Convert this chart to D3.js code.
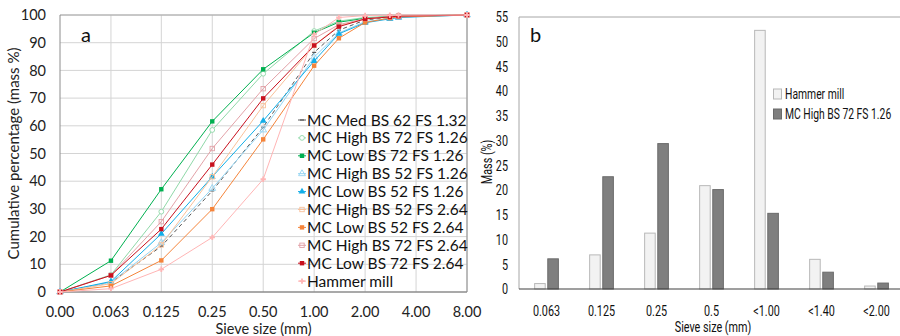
<!DOCTYPE html>
<html><head><meta charset="utf-8">
<script src="https://cdn.jsdelivr.net/npm/d3@7"></script>
<style>
body{margin:0;background:#fff;}
svg{display:block;}
</style></head>
<body><svg id="c" width="900" height="336"></svg>
<script>
// ---------- Panel a data ----------
const sieveSizes = [0, 0.063, 0.125, 0.25, 0.5, 1, 1.4, 2, 2.8, 3.15, 8];
const xTickValues = [0, 0.063, 0.125, 0.25, 0.5, 1, 2, 4, 8];
const xTickLabels = ["0.00","0.063","0.125","0.25","0.50","1.00","2.00","4.00","8.00"];
const yTicksA = [0,10,20,30,40,50,60,70,80,90,100];
const seriesNames = [
  "MC Med BS 62 FS 1.32","MC High BS 72 FS 1.26","MC Low BS 72 FS 1.26",
  "MC High BS 52 FS 1.26","MC Low BS 52 FS 1.26","MC High BS 52 FS 2.64",
  "MC Low BS 52 FS 2.64","MC High BS 72 FS 2.64","MC Low BS 72 FS 2.64","Hammer mill"];
const medBS62 =   [0, 3.5, 16.5, 36.5, 59.5, 86.5, 94.5, 98.2, 99.2, 99.5, 100];
const highBS72a = [0, 6.2, 29.0, 58.5, 78.8, 94.2, 97.8, 99.1, 99.5, 99.7, 100];
const lowBS72a =  [0, 11.3, 37.1, 61.6, 80.4, 93.6, 97.4, 98.8, 99.4, 99.6, 100];
const highBS52a = [0, 3.5, 17.8, 37.4, 58.5, 84.8, 93.5, 97.6, 98.8, 99.2, 100];
const lowBS52a =  [0, 3.8, 21.0, 41.6, 61.8, 83.4, 93.2, 97.2, 98.6, 99.1, 100];
const highBS52b = [0, 3.0, 17.0, 41.6, 67.3, 89.0, 96.2, 98.5, 99.3, 99.5, 100];
const lowBS52b =  [0, 2.2, 11.4, 29.9, 55.1, 81.7, 91.6, 97.3, 98.9, 99.3, 100];
const highBS72b = [0, 6.0, 25.4, 51.8, 73.4, 91.5, 96.5, 98.7, 99.4, 99.6, 100];
const lowBS72b =  [0, 6.0, 22.7, 46.0, 69.9, 89.0, 95.8, 98.6, 99.3, 99.6, 100];
const hammerCum = [0, 1.2, 8.2, 19.7, 40.7, 93.0, 99.1, 99.8, 99.9, 100, 100];
const seriesValues = [medBS62, highBS72a, lowBS72a, highBS52a, lowBS52a, highBS52b, lowBS52b, highBS72b, lowBS72b, hammerCum];

// ---------- Panel b data ----------
const binLabels = ["0.063","0.125","0.25","0.5","<1.00","<1.40","<2.00"];
const hammerMass = [1.2, 7.0, 11.4, 21.0, 52.4, 6.1, 0.7];
const mcHighMass = [6.2, 22.8, 29.5, 20.2, 15.4, 3.5, 1.3];
const barSeriesNames = ["Hammer mill","MC High BS 72 FS 1.26"];
const yTicksB = [0,5,10,15,20,25,30,35,40,45,50,55];

// ---------- styles ----------
const styles = [
  {color:"#595959", dash:"4,3", marker:"dash"},
  {color:"#8fd8a8", dash:null, marker:"circleOpen"},
  {color:"#00b050", dash:null, marker:"square"},
  {color:"#93d4f2", dash:null, marker:"triOpen"},
  {color:"#12aee8", dash:null, marker:"tri"},
  {color:"#f9c19a", dash:null, marker:"squareOpen"},
  {color:"#f5843a", dash:null, marker:"square"},
  {color:"#e3a2a8", dash:null, marker:"squareOpen"},
  {color:"#c8101e", dash:null, marker:"square"},
  {color:"#ffb5b5", dash:null, marker:"plus"}
];

const svg = d3.select("#c");
const fontA = "Lato, Carlito, 'Open Sans', sans-serif";
const fontB = "Roboto, 'Liberation Sans', sans-serif";
function condense(sel, f){
  const k = f || 0.72;
  sel.each(function(){
    const w = this.getComputedTextLength();
    d3.select(this).attr("textLength", w*k).attr("lengthAdjust","spacingAndGlyphs");
  });
}

// ---------- Panel a ----------
const A = {l:60, r:467, t:15, b:292};
const xA = d3.scaleLog().base(2).domain([0.0315, 8]).range([A.l, A.r]);
const xPos = v => xA(v === 0 ? 0.0315 : v);
const yA = d3.scaleLinear().domain([0,100]).range([A.b, A.t]);

const ga = svg.append("g");
ga.selectAll("line.hg").data(yTicksA.filter(d=>d>0)).enter().append("line")
  .attr("x1",A.l).attr("x2",A.r).attr("y1",d=>yA(d)).attr("y2",d=>yA(d))
  .attr("stroke","#d4d4d4").attr("stroke-width",1);
ga.selectAll("line.vg").data(xTickValues.filter(d=>d>0)).enter().append("line")
  .attr("x1",d=>xPos(d)).attr("x2",d=>xPos(d)).attr("y1",A.t).attr("y2",A.b)
  .attr("stroke","#d4d4d4").attr("stroke-width",1);
ga.append("line").attr("x1",A.l).attr("x2",A.r).attr("y1",A.t).attr("y2",A.t).attr("stroke","#a6a6a6");
ga.append("line").attr("x1",A.r).attr("x2",A.r).attr("y1",A.t).attr("y2",A.b).attr("stroke","#8c8c8c");
ga.append("line").attr("x1",A.l).attr("x2",A.l).attr("y1",A.t).attr("y2",A.b).attr("stroke","#8c8c8c");
ga.append("line").attr("x1",A.l).attr("x2",A.r).attr("y1",A.b).attr("y2",A.b).attr("stroke","#8c8c8c").attr("stroke-width",1.5);

const yAxisA = d3.axisLeft(yA).tickValues(yTicksA).tickSize(0).tickPadding(14);
const gyA = ga.append("g").attr("transform",`translate(${A.l},0)`).call(yAxisA);
gyA.select(".domain").remove();
gyA.selectAll("text").attr("font-family",fontA).attr("font-size",14.5).attr("fill","#222");

ga.append("g").selectAll("text").data(xTickValues).enter().append("text")
  .attr("x",d=>xPos(d)).attr("y",317)
  .attr("text-anchor","middle").attr("font-family",fontA).attr("font-size",14.5).attr("fill","#222")
  .text((d,i)=>xTickLabels[i]);

ga.append("text").attr("x",(A.l+A.r)/2).attr("y",334).attr("text-anchor","middle")
  .attr("font-family",fontA).attr("font-size",14.5).attr("fill","#222").text("Sieve size (mm)");
ga.append("text").attr("transform",`translate(19,${(A.t+A.b)/2}) rotate(-90)`)
  .attr("text-anchor","middle").attr("font-family",fontA).attr("font-size",15).attr("fill","#222")
  .text("Cumulative percentage (mass %)");
ga.append("text").attr("x",81).attr("y",42).attr("font-family",fontA).attr("font-size",20).attr("fill","#111").text("a");

function drawMarker(g, type, color, cx, cy){
  const s = 2.2;
  if(type==="square") g.append("rect").attr("x",cx-s).attr("y",cy-s).attr("width",2*s).attr("height",2*s).attr("fill",color);
  else if(type==="squareOpen") g.append("rect").attr("x",cx-s).attr("y",cy-s).attr("width",2*s).attr("height",2*s).attr("fill","none").attr("stroke",color).attr("stroke-width",0.9);
  else if(type==="circleOpen") g.append("circle").attr("cx",cx).attr("cy",cy).attr("r",2.4).attr("fill","#fff").attr("stroke",color).attr("stroke-width",0.9);
  else if(type==="tri") g.append("path").attr("d",d3.symbol(d3.symbolTriangle,20)()).attr("transform",`translate(${cx},${cy})`).attr("fill",color);
  else if(type==="triOpen") g.append("path").attr("d",d3.symbol(d3.symbolTriangle,20)()).attr("transform",`translate(${cx},${cy})`).attr("fill","none").attr("stroke",color).attr("stroke-width",0.9);
  else if(type==="plus") g.append("path").attr("d",d3.symbol(d3.symbolCross,16)()).attr("transform",`translate(${cx},${cy})`).attr("fill",color);
  else if(type==="dash") g.append("line").attr("x1",cx-2).attr("x2",cx+2).attr("y1",cy).attr("y2",cy).attr("stroke",color).attr("stroke-width",1.2);
}

const line = d3.line().x((d,i)=>xPos(sieveSizes[i])).y(d=>yA(d));
seriesValues.forEach((vals,k)=>{
  const st = styles[k];
  const g = ga.append("g");
  g.append("path").attr("d",line(vals)).attr("fill","none").attr("stroke",st.color)
    .attr("stroke-width",1).attr("stroke-dasharray",st.dash);
  vals.forEach((v,i)=>drawMarker(g, st.marker, st.color, xPos(sieveSizes[i]), yA(v)));
});

const lg = ga.append("g");
seriesNames.forEach((n,k)=>{
  const y = 120 + k*17.9;
  const st = styles[k];
  lg.append("line").attr("x1",298).attr("x2",306).attr("y1",y).attr("y2",y).attr("stroke",st.color).attr("stroke-width",1);
  drawMarker(lg, st.marker, st.color, 302, y);
  lg.append("text").attr("x",307).attr("y",y).attr("dy","0.36em").attr("font-family",fontA).attr("font-size",15.5).attr("fill","#111").text(n);
});

// ---------- Panel b ----------
const B = {l:519, r:904, t:17, b:289};
const xB = d3.scaleBand().domain(binLabels).range([B.l,B.r]).paddingInner(0).paddingOuter(0);
const yB = d3.scaleLinear().domain([0,55]).range([B.b,B.t]);
const inner = d3.scaleBand().domain(barSeriesNames).range([0,xB.bandwidth()]).paddingInner(0.12).paddingOuter(1.15);
const gb = svg.append("g");
gb.append("line").attr("x1",B.l).attr("x2",B.r).attr("y1",B.t).attr("y2",B.t).attr("stroke","#a6a6a6");
gb.append("line").attr("x1",B.l).attr("x2",B.l).attr("y1",B.t).attr("y2",B.b).attr("stroke","#a6a6a6");

const barData = [hammerMass, mcHighMass];
const barFill = ["#f2f2f2","#7f7f7f"];
const barStroke = ["#b8b8b8","#6a6a6a"];
barData.forEach((vals,s)=>{
  gb.selectAll(null).data(vals).enter().append("rect")
    .attr("x",(d,i)=>xB(binLabels[i])+inner(barSeriesNames[s])+0.5)
    .attr("y",d=>yB(d)+0.5)
    .attr("width",inner.bandwidth()-1)
    .attr("height",d=>Math.max(0,yB(0)-yB(d)-0.5))
    .attr("fill",barFill[s]).attr("stroke",barStroke[s]).attr("stroke-width",1);
});
gb.append("line").attr("x1",B.l).attr("x2",B.r).attr("y1",B.b).attr("y2",B.b).attr("stroke","#404040").attr("stroke-width",1.2);

const gyB = gb.append("g").attr("transform",`translate(${B.l},0)`)
  .call(d3.axisLeft(yB).tickValues(yTicksB).tickSize(0).tickPadding(11));
gyB.select(".domain").remove();
gyB.selectAll("text").attr("font-family",fontB).attr("font-size",15).attr("fill","#111").call(condense);

const gxB = gb.append("g").attr("transform",`translate(0,${B.b})`)
  .call(d3.axisBottom(xB).tickSize(0).tickPadding(16));
gxB.select(".domain").remove();
gxB.selectAll("text").attr("font-family",fontB).attr("font-size",15).attr("fill","#111").call(condense);

gb.append("text").attr("x",713).attr("y",332).attr("text-anchor","middle")
  .attr("font-family",fontB).attr("font-size",15).attr("fill","#111").text("Sieve size (mm)").call(condense);
gb.append("text").attr("transform",`translate(492,162) rotate(-90)`).attr("text-anchor","middle")
  .attr("font-family",fontB).attr("font-size",15).attr("fill","#111").text("Mass (%)").call(condense);
gb.append("text").attr("x",530).attr("y",42).attr("font-family",fontA).attr("font-size",20).attr("fill","#111").text("b");

barSeriesNames.forEach((n,s)=>{
  const y = 94 + s*20;
  gb.append("rect").attr("x",773.5).attr("y",y-5).attr("width",8).attr("height",10)
    .attr("fill",barFill[s]).attr("stroke",barStroke[s]);
  gb.append("g").attr("transform",`translate(785,${y}) scale(0.69,1)`)
    .append("text").attr("x",0).attr("y",0).attr("dy","0.36em").attr("font-family",fontB)
    .attr("font-size",15).attr("fill","#111").text(n);
});
</script></body></html>
